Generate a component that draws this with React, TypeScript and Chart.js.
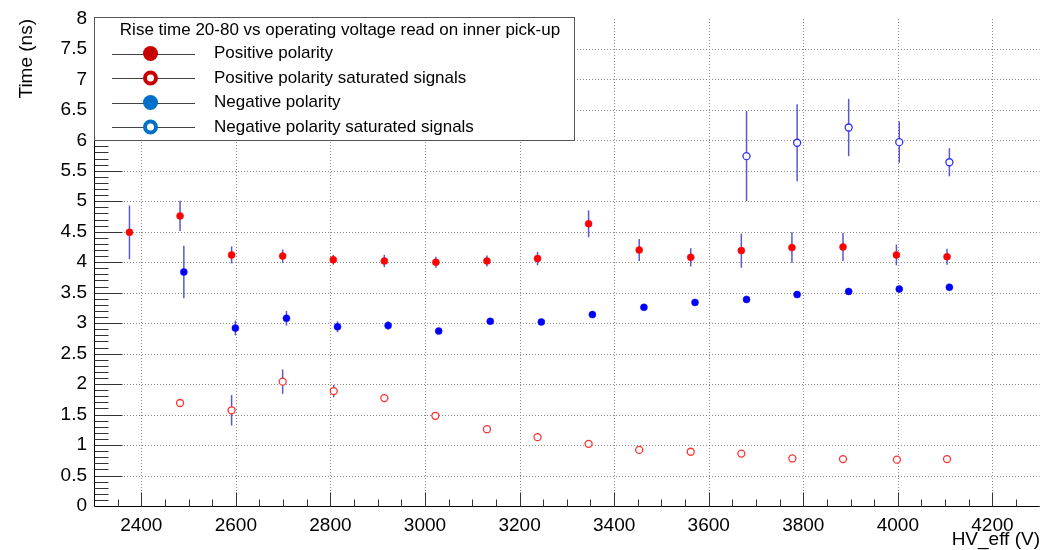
import React, { useEffect, useRef } from "react";
import { Chart, registerables } from "chart.js";

Chart.register(...registerables);

// ---------- data ----------
const legendTitle = "Rise time 20-80 vs operating voltage read on inner pick-up";
const seriesNames = [
  "Positive polarity",
  "Positive polarity saturated signals",
  "Negative polarity",
  "Negative polarity saturated signals",
];

const posX = [2375, 2482, 2591, 2699, 2806, 2914, 3023, 3131, 3238, 3346, 3453, 3562, 3669, 3776, 3884, 3997, 4104];
const posY = [4.49, 4.76, 4.12, 4.10, 4.04, 4.02, 4.00, 4.02, 4.06, 4.63, 4.20, 4.08, 4.19, 4.24, 4.25, 4.12, 4.09];
const posErr = [0.44, 0.25, 0.14, 0.11, 0.08, 0.10, 0.09, 0.09, 0.11, 0.22, 0.18, 0.15, 0.28, 0.25, 0.23, 0.17, 0.13];

const posSatX = [2482, 2591, 2699, 2807, 2914, 3022, 3131, 3238, 3346, 3453, 3562, 3669, 3777, 3884, 3998, 4104];
const posSatY = [1.69, 1.57, 2.04, 1.885, 1.77, 1.48, 1.26, 1.13, 1.02, 0.92, 0.89, 0.86, 0.78, 0.77, 0.76, 0.77];
const posSatErr = [0.02, 0.25, 0.2, 0.1, 0.03, 0.02, 0.01, 0.01, 0.01, 0.01, 0.01, 0.01, 0.01, 0.01, 0.01, 0.01];

const negX = [2490, 2599, 2707, 2815, 2922, 3029, 3138, 3246, 3354, 3463, 3571, 3680, 3787, 3896, 4003, 4109];
const negY = [3.84, 2.92, 3.08, 2.94, 2.96, 2.87, 3.03, 3.02, 3.14, 3.26, 3.34, 3.39, 3.47, 3.52, 3.56, 3.59];
const negErr = [0.43, 0.12, 0.12, 0.09, 0.07, 0.03, 0.03, 0.02, 0.02, 0.02, 0.02, 0.02, 0.02, 0.02, 0.02, 0.02];

const negSatX = [3680, 3787, 3896, 4003, 4109];
const negSatY = [5.74, 5.96, 6.21, 5.97, 5.64];
const negSatErr = [0.74, 0.63, 0.47, 0.34, 0.23];

const xTickValues = [2400, 2600, 2800, 3000, 3200, 3400, 3600, 3800, 4000, 4200];
const yTickValues = [0, 0.5, 1, 1.5, 2, 2.5, 3, 3.5, 4, 4.5, 5, 5.5, 6, 6.5, 7, 7.5, 8];

const xMin = 2300;
const xMax = 4300;
const yMin = 0;
const yMax = 8;
const xTitle = "HV_eff (V)";
const yTitle = "Time (ns)";

const FONT = "'Liberation Sans', Arial, Helvetica, sans-serif";
const errors = [posErr, posSatErr, negErr, negSatErr];

const plotPlugin = {
  id: "rootStyle",
  beforeDatasetsDraw(chart: any) {
    const ctx = chart.ctx;
    const a = chart.chartArea;
    const xs = chart.scales.x;
    const ys = chart.scales.y;
    ctx.save();
    // grid
    ctx.strokeStyle = "#8a8a8a";
    ctx.lineWidth = 1;
    ctx.setLineDash([1, 2]);
    xTickValues.forEach((v) => {
      const px = Math.round(xs.getPixelForValue(v)) + 0.5;
      ctx.beginPath();
      ctx.moveTo(px, a.bottom);
      ctx.lineTo(px, a.top);
      ctx.stroke();
    });
    yTickValues.forEach((v) => {
      if (v <= yMin || v >= yMax) return;
      const py = Math.round(ys.getPixelForValue(v)) + 0.5;
      ctx.beginPath();
      ctx.moveTo(a.left, py);
      ctx.lineTo(a.right, py);
      ctx.stroke();
    });
    ctx.setLineDash([]);
    // axes
    ctx.strokeStyle = "#000";
    const left = Math.round(a.left) + 0.5;
    const bottom = Math.round(a.bottom) + 0.5;
    ctx.beginPath();
    ctx.moveTo(left, a.top);
    ctx.lineTo(left, bottom);
    ctx.lineTo(a.right, bottom);
    ctx.stroke();
    // y ticks
    ctx.strokeStyle = "#333";
    for (let i = 1; i < 80; i++) {
      const v = i * 0.1;
      const py = Math.round(ys.getPixelForValue(v)) + 0.5;
      const len = i % 5 === 0 ? 28 : 14;
      ctx.beginPath();
      ctx.moveTo(left, py);
      ctx.lineTo(left + len, py);
      ctx.stroke();
    }
    // x ticks
    for (let v = 2350; v < xMax; v += 50) {
      const px = Math.round(xs.getPixelForValue(v)) + 0.5;
      const len = v % 200 === 0 ? 14 : 7;
      ctx.beginPath();
      ctx.moveTo(px, bottom);
      ctx.lineTo(px, bottom - len);
      ctx.stroke();
    }
    // error bars
    ctx.strokeStyle = "rgba(60,60,200,0.85)";
    ctx.lineWidth = 1.5;
    chart.data.datasets.forEach((ds: any, di: number) => {
      const errs = errors[di];
      ds.data.forEach((p: any, i: number) => {
        const px = xs.getPixelForValue(p.x);
        const y1 = ys.getPixelForValue(p.y + errs[i]);
        const y2 = ys.getPixelForValue(p.y - errs[i]);
        ctx.beginPath();
        ctx.moveTo(px, y1);
        ctx.lineTo(px, y2);
        ctx.stroke();
      });
    });
    ctx.restore();
  },
  afterDraw(chart: any) {
    const ctx = chart.ctx;
    ctx.save();
    // axis titles
    ctx.fillStyle = "#000";
    ctx.font = `19px ${FONT}`;
    ctx.textAlign = "right";
    ctx.textBaseline = "middle";
    ctx.fillText(xTitle, 1040, 540);
    ctx.translate(27, 19);
    ctx.rotate(-Math.PI / 2);
    ctx.fillText(yTitle, 0, 0);
    ctx.restore();

    // legend
    ctx.save();
    const bx = 94, by = 17, bw = 480, bh = 123;
    ctx.fillStyle = "#fff";
    ctx.fillRect(bx, by, bw, bh);
    ctx.strokeStyle = "#555";
    ctx.lineWidth = 1;
    ctx.strokeRect(bx + 0.5, by + 0.5, bw, bh);
    ctx.fillStyle = "#000";
    ctx.font = `17px ${FONT}`;
    ctx.textAlign = "center";
    ctx.textBaseline = "middle";
    ctx.fillText(legendTitle, 340, 30);
    const rows = [53.5, 78, 102.5, 127];
    const cols = ["#c80000", "#c80000", "#0070c8", "#0070c8"];
    const open = [false, true, false, true];
    rows.forEach((ry, i) => {
      ctx.strokeStyle = "#444";
      ctx.lineWidth = 1;
      ctx.beginPath();
      ctx.moveTo(112, Math.round(ry) + 0.5);
      ctx.lineTo(195, Math.round(ry) + 0.5);
      ctx.stroke();
      if (open[i]) {
        ctx.beginPath();
        ctx.arc(150.5, ry, 5.5, 0, Math.PI * 2);
        ctx.fillStyle = "#fff";
        ctx.fill();
        ctx.lineWidth = 4;
        ctx.strokeStyle = cols[i];
        ctx.stroke();
      } else {
        ctx.beginPath();
        ctx.arc(150.5, ry, 7.5, 0, Math.PI * 2);
        ctx.fillStyle = cols[i];
        ctx.fill();
      }
      ctx.fillStyle = "#000";
      ctx.textAlign = "left";
      ctx.fillText(seriesNames[i], 214, ry);
    });
    ctx.restore();
  },
};

function pts(xs: number[], ys: number[]) {
  return xs.map((x, i) => ({ x, y: ys[i] }));
}

export default function App() {
  const ref = useRef<HTMLCanvasElement>(null);
  useEffect(() => {
    document.body.style.margin = "0";
    const chart = new Chart(ref.current as HTMLCanvasElement, {
      type: "scatter",
      data: {
        datasets: [
          {
            label: seriesNames[0],
            data: pts(posX, posY),
            pointRadius: 3.5,
            pointBackgroundColor: "#ff0000",
            pointBorderColor: "#ff0000",
            pointBorderWidth: 0.5,
          },
          {
            label: seriesNames[1],
            data: pts(posSatX, posSatY),
            pointRadius: 3.5,
            pointBackgroundColor: "#ffffff",
            pointBorderColor: "#ff3030",
            pointBorderWidth: 1.3,
          },
          {
            label: seriesNames[2],
            data: pts(negX, negY),
            pointRadius: 3.5,
            pointBackgroundColor: "#0000ff",
            pointBorderColor: "#0000ff",
            pointBorderWidth: 0.5,
          },
          {
            label: seriesNames[3],
            data: pts(negSatX, negSatY),
            pointRadius: 3.5,
            pointBackgroundColor: "#ffffff",
            pointBorderColor: "#3030ff",
            pointBorderWidth: 1.3,
          },
        ] as any,
      },
      options: {
        responsive: false,
        animation: false,
        layout: { padding: { top: 17, right: 5, left: 0, bottom: 0 } },
        plugins: { legend: { display: false }, tooltip: { enabled: false } },
        scales: {
          x: {
            type: "linear",
            min: xMin,
            max: xMax,
            grid: { display: false, drawTicks: false },
            border: { display: false },
            afterBuildTicks: (s: any) => {
              s.ticks = xTickValues.map((v) => ({ value: v }));
            },
            ticks: {
              padding: 8,
              color: "#000",
              font: { family: FONT, size: 19 },
              maxRotation: 0,
              autoSkip: false,
              callback: (v: any) => String(v),
            },
            afterFit: (s: any) => {
              s.height = 44;
            },
          },
          y: {
            type: "linear",
            min: yMin,
            max: yMax,
            grid: { display: false, drawTicks: false },
            border: { display: false },
            afterBuildTicks: (s: any) => {
              s.ticks = yTickValues.map((v) => ({ value: v }));
            },
            ticks: {
              padding: 7,
              color: "#000",
              autoSkip: false,
              font: { family: FONT, size: 19 },
              callback: (v: any) => String(v),
            },
            afterFit: (s: any) => {
              s.width = 94;
            },
          },
        },
      } as any,
      plugins: [plotPlugin],
    });
    return () => chart.destroy();
  }, []);
  return (
    <div style={{ position: "fixed", left: 0, top: 0, width: 1045, height: 550 }}>
      <canvas ref={ref} width={1045} height={550} />
    </div>
  );
}
